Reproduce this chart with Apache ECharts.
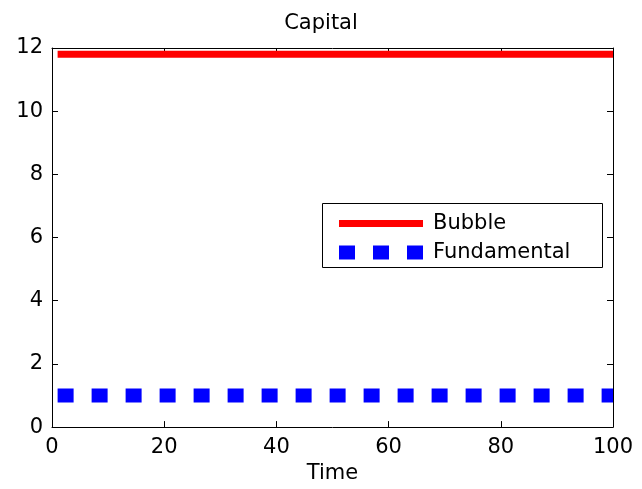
<!DOCTYPE html>
<html><head><meta charset="utf-8">
<script src="https://cdn.jsdelivr.net/npm/echarts@6/dist/echarts.min.js"></script>
<style>html,body{margin:0;padding:0;background:#fff}#c{width:642px;height:489px}</style>
</head><body><div id="c"></div>
<script>
const timeStart = [1, 100];
const bubble = [11.8, 11.8];
const fundamental = [1, 1];
const xTicks = [0, 20, 40, 60, 80, 100];
const yTicks = [0, 2, 4, 6, 8, 10, 12];

const FONT = '"DejaVu Sans", "Liberation Sans", Arial, sans-serif';
const FS = 21;
const chart = echarts.init(document.getElementById('c'), null, {renderer: 'canvas'});
function ax(extra) {
  return Object.assign({
    axisLine: {show: true, onZero: false, lineStyle: {color: '#000', width: 1}},
    axisTick: {show: true, inside: true, length: 6, lineStyle: {color: '#000'}},
    splitLine: {show: false}
  }, extra);
}
chart.setOption({
  animation: false,
  backgroundColor: '#fff',
  title: {text: 'Capital', left: 'center', top: 8, textStyle: {fontFamily: FONT, fontSize: FS, fontWeight: 'normal', color: '#000'}},
  grid: {left: 52, right: 29, top: 48, bottom: 61, containLabel: false},
  graphic: [{type: 'rect', left: 322, top: 203, z: 0,
    shape: {width: 280, height: 64}, style: {fill: '#fff', stroke: '#000', lineWidth: 1}}],
  legend: {
    orient: 'vertical', left: 322, top: 203, z: 10,
    padding: [10, 0, 0, 10], itemGap: 8, itemWidth: 84, itemHeight: 14,
    textStyle: {fontFamily: FONT, fontSize: FS, color: '#000', padding: [0, 0, 0, 5]},
    data: [
      {name: 'Bubble', itemStyle: {opacity: 0, color: 'transparent', borderWidth: 0},
        lineStyle: {width: 7, color: '#ff0000', type: 'solid'}},
      {name: 'Fundamental', itemStyle: {opacity: 0, color: 'transparent', borderWidth: 0},
        lineStyle: {width: 14, color: '#0000ff', type: [16, 18]}}
    ]
  },
  xAxis: [
    ax({type: 'value', min: 0, max: 100, interval: 20, position: 'bottom',
      name: 'Time', nameLocation: 'middle', nameGap: 34,
      nameTextStyle: {fontFamily: FONT, fontSize: FS, color: '#000'},
      axisLabel: {fontFamily: FONT, fontSize: FS, color: '#000', margin: 10, customValues: xTicks}}),
    ax({type: 'value', min: 0, max: 100, interval: 20, position: 'top', axisLabel: {show: false}})
  ],
  yAxis: [
    ax({type: 'value', min: 0, max: 12, interval: 2, position: 'left',
      axisLabel: {fontFamily: FONT, fontSize: FS, color: '#000', margin: 9, customValues: yTicks}}),
    ax({type: 'value', min: 0, max: 12, interval: 2, position: 'right', axisLabel: {show: false}})
  ],
  series: [
    {name: 'Bubble', type: 'line', symbol: 'none', data: timeStart.map((t, i) => [t, bubble[i]]),
      lineStyle: {color: '#ff0000', width: 7}, itemStyle: {color: '#ff0000'}},
    {name: 'Fundamental', type: 'line', symbol: 'none', data: timeStart.map((t, i) => [t, fundamental[i]]),
      lineStyle: {color: '#0000ff', width: 14, type: [16, 18], cap: 'butt'}, itemStyle: {color: '#0000ff'}}
  ]
});
</script></body></html>
